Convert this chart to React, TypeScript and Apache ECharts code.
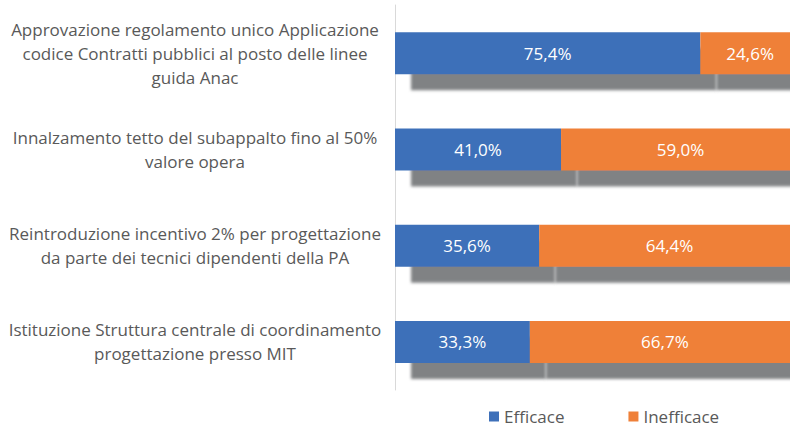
import React, { useEffect, useRef } from "react";
import * as echarts from "echarts";

const categories = [
  "Approvazione regolamento unico Applicazione\ncodice Contratti pubblici al posto delle linee\nguida Anac",
  "Innalzamento tetto del subappalto fino al 50%\nvalore opera",
  "Reintroduzione incentivo 2% per progettazione\nda parte dei tecnici dipendenti della PA",
  "Istituzione Struttura centrale di coordinamento\nprogettazione presso MIT",
];
const efficace = [75.4, 41.0, 35.6, 33.3];
const inefficace = [24.6, 59.0, 64.4, 66.7];
const seriesNames = ["Efficace", "Inefficace"];

const FONT = "Open Sans";
const fmt = (v: number) => v.toFixed(1).replace(".", ",") + "%";

export default function App() {
  const ref = useRef<HTMLDivElement>(null);
  useEffect(() => {
    if (!ref.current) return;
    const chart = echarts.init(ref.current, null, { renderer: "svg" });
    const shadow = {
      shadowColor: "rgba(128,130,132,1)",
      shadowBlur: 3,
      shadowOffsetX: 16,
      shadowOffsetY: 16,
    };
    const label = {
      show: true,
      position: "inside",
      color: "#ffffff",
      fontFamily: FONT,
      fontSize: 17,
      formatter: (p: any) => fmt(p.value),
    };
    chart.setOption({
      animation: false,
      textStyle: { fontFamily: FONT },
      grid: { left: 395, right: 0, top: 5, bottom: 39, containLabel: false },
      xAxis: {
        type: "value",
        min: 0,
        max: 100,
        show: false,
      },
      yAxis: {
        type: "category",
        inverse: true,
        data: categories,
        axisLine: { show: true, lineStyle: { color: "#d9d9d9", width: 1 } },
        axisTick: { show: false },
        axisLabel: {
          margin: 200,
          align: "center",
          color: "#595959",
          fontFamily: FONT,
          fontSize: 17,
          lineHeight: 24,
        },
      },
      legend: {
        data: seriesNames,
        left: 484,
        top: 403,
        icon: "rect",
        itemWidth: 10,
        itemHeight: 10,
        itemGap: 64,
        textStyle: { color: "#595959", fontFamily: FONT, fontSize: 17 },
      },
      series: [
        {
          name: seriesNames[0],
          type: "bar",
          stack: "total",
          data: efficace,
          barWidth: 42,
          itemStyle: { color: "#3e70b9", ...shadow },
          label,
        },
        {
          name: seriesNames[1],
          type: "bar",
          stack: "total",
          data: inefficace,
          barWidth: 42,
          itemStyle: { color: "#ef8039", ...shadow },
          label,
        },
      ],
    });
    return () => chart.dispose();
  }, []);
  return (
    <div style={{ width: 790, height: 429, position: "absolute", left: 0, top: 0, overflow: "hidden" }}>
      <div ref={ref} style={{ width: 800, height: 429 }} />
    </div>
  );
}
